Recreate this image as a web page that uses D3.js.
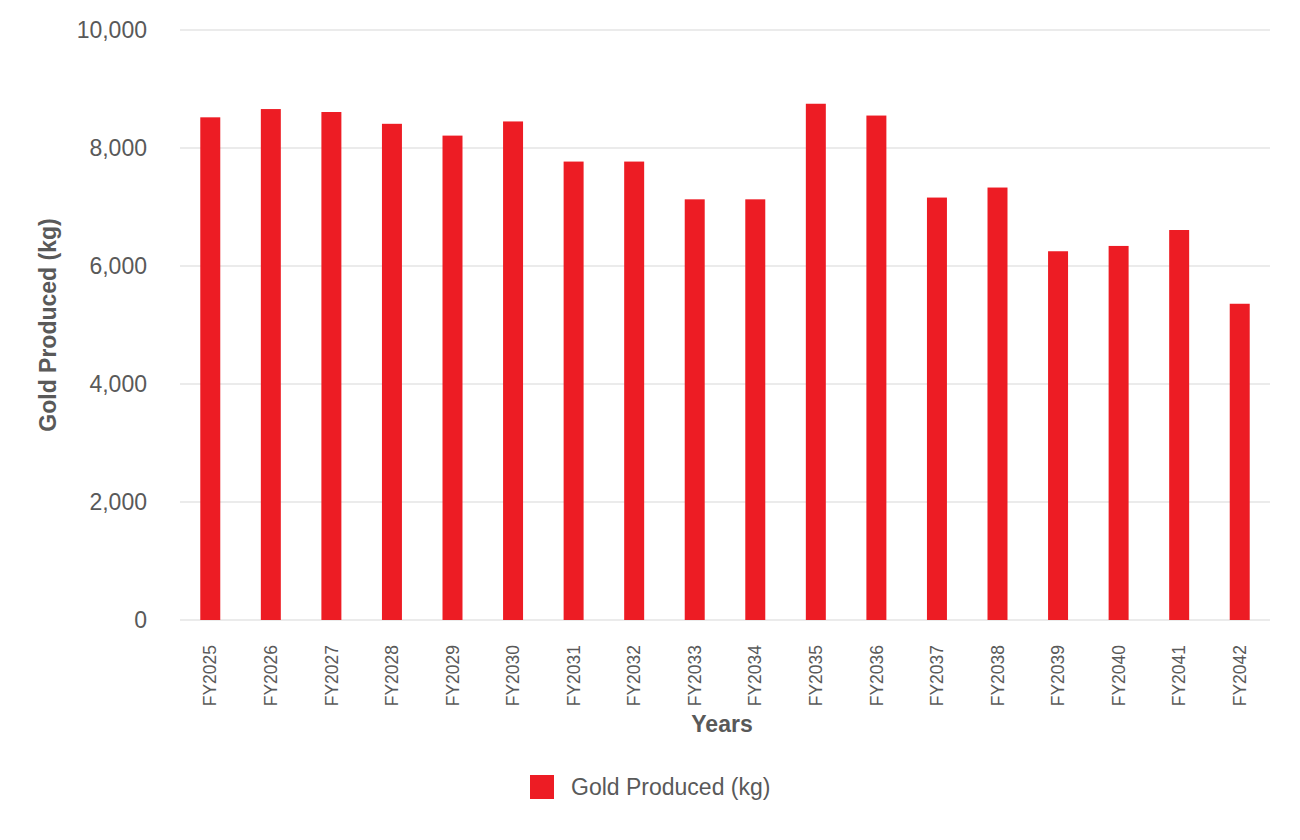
<!DOCTYPE html>
<html>
<head>
<meta charset="utf-8">
<script src="https://cdn.jsdelivr.net/npm/d3@7"></script>
<style>
  body { margin: 0; background: #fff; }
  text { font-family: "Liberation Sans", Arial, sans-serif; fill: #595959; }
</style>
</head>
<body>
<div id="chart"></div>
<script>
// chart data
var years = ["FY2025", "FY2026", "FY2027", "FY2028", "FY2029", "FY2030", "FY2031", "FY2032", "FY2033",
             "FY2034", "FY2035", "FY2036", "FY2037", "FY2038", "FY2039", "FY2040", "FY2041", "FY2042"];
var goldProduced = [8520, 8660, 8610, 8410, 8210, 8450, 7770, 7770, 7130,
                    7130, 8750, 8550, 7160, 7330, 6250, 6340, 6610, 5360];
var yTicks = [0, 2000, 4000, 6000, 8000, 10000];
var seriesName = "Gold Produced (kg)";

var width = 1300, height = 840;
var margin = { top: 30, right: 30, bottom: 220, left: 180 };

var svg = d3.select("#chart").append("svg")
    .attr("width", width)
    .attr("height", height);

var x = d3.scaleBand()
    .domain(years)
    .range([margin.left, width - margin.right])
    .paddingInner(0.67)
    .paddingOuter(0.335);

var y = d3.scaleLinear()
    .domain([0, 10000])
    .range([height - margin.bottom, margin.top]);

// gridlines
svg.append("g")
    .selectAll("line")
    .data(yTicks)
    .enter().append("line")
    .attr("x1", margin.left)
    .attr("x2", width - margin.right)
    .attr("y1", function (d) { return y(d); })
    .attr("y2", function (d) { return y(d); })
    .attr("stroke", "#e5e5e5")
    .attr("stroke-width", 1.5);

// y axis labels
var yAxis = svg.append("g")
    .attr("transform", "translate(" + (margin.left - 33) + ",0)")
    .call(d3.axisLeft(y).tickValues(yTicks).tickSize(0).tickFormat(d3.format(",")));
yAxis.select(".domain").remove();
yAxis.selectAll("text")
    .attr("x", 0)
    .style("font-size", "23px")
    .style("fill", "#595959");

// bars
svg.selectAll(".bar")
    .data(goldProduced)
    .enter().append("rect")
    .attr("class", "bar")
    .attr("x", function (d, i) { return x(years[i]); })
    .attr("y", function (d) { return y(d); })
    .attr("width", x.bandwidth())
    .attr("height", function (d) { return y(0) - y(d); })
    .attr("fill", "#ED1C24");

// x axis labels
var xAxis = svg.append("g")
    .attr("transform", "translate(0," + (y(0) + 25) + ")")
    .call(d3.axisBottom(x).tickSize(0));
xAxis.select(".domain").remove();
xAxis.selectAll("text")
    .attr("transform", "rotate(-90)")
    .attr("x", 0)
    .attr("y", 0)
    .attr("dy", "0.35em")
    .style("text-anchor", "end")
    .style("font-size", "17.5px")
    .style("fill", "#595959");

// axis titles
svg.append("text")
    .attr("transform", "translate(56," + ((margin.top + height - margin.bottom) / 2) + ") rotate(-90)")
    .style("text-anchor", "middle")
    .style("font-size", "23px")
    .style("font-weight", "bold")
    .text("Gold Produced (kg)");

svg.append("text")
    .attr("x", (margin.left + width - margin.right) / 2 - 3)
    .attr("y", 732)
    .style("text-anchor", "middle")
    .style("font-size", "23px")
    .style("font-weight", "bold")
    .text("Years");

// legend
var legend = svg.append("g").attr("transform", "translate(530,775)");
legend.append("rect")
    .attr("width", 24)
    .attr("height", 24)
    .attr("fill", "#ED1C24");
legend.append("text")
    .attr("x", 41)
    .attr("y", 12)
    .attr("dy", "0.35em")
    .style("font-size", "23px")
    .text(seriesName);
</script>
</body>
</html>
